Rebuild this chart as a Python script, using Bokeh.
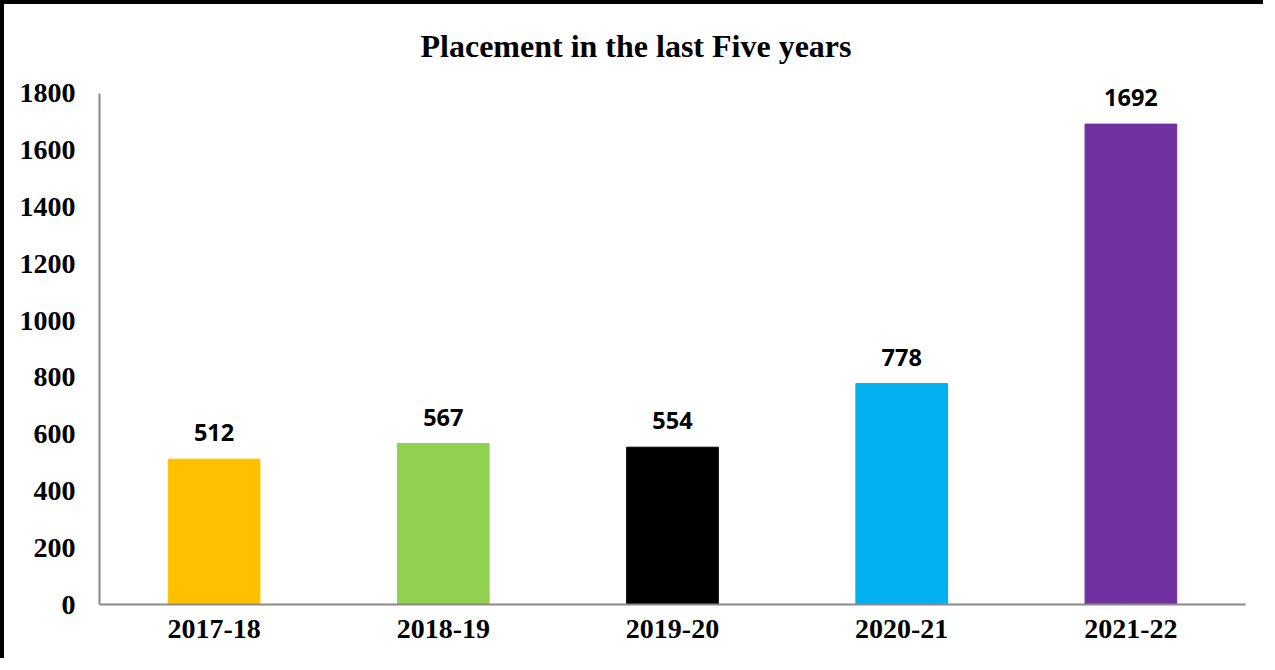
from bokeh.plotting import figure
from bokeh.models import Range1d, FixedTicker, ColumnDataSource, LabelSet
from bokeh.core.properties import value
from bokeh.embed import file_html
from bokeh.resources import INLINE

years = ["2017-18", "2018-19", "2019-20", "2020-21", "2021-22"]
placements = [512, 567, 554, 778, 1692]
bar_colors = ["#FFC000", "#92D050", "#000000", "#00B0F0", "#7030A0"]
y_ticks = [0, 200, 400, 600, 800, 1000, 1200, 1400, 1600, 1800]
y_axis_max = 1800

src = ColumnDataSource(dict(x=years, top=placements, color=bar_colors,
                            label=[str(v) for v in placements]))

# a little head-room above 1800 so the top data label is not clipped
p = figure(x_range=years, y_range=Range1d(0, 1835), width=1263, height=658,
           output_backend="svg", toolbar_location=None,
           min_border_left=95, min_border_right=22, min_border_top=79, min_border_bottom=58)
p.styles = {"border-top": "4px solid black", "border-left": "4px solid black"}

p.title.text = "Placement in the last Five  years"
p.title.text_font = "Liberation Serif"
p.title.text_font_size = "32px"
p.title.text_font_style = "bold"
p.title.text_color = "#000000"
p.title.align = "left"
p.title.offset = 321
p.title.standoff = 40

p.vbar(x="x", top="top", width=0.4, color="color", source=src)
labels = LabelSet(x="x", y="top", text="label", source=src, text_align="center",
                  text_baseline="bottom", y_offset=18, text_font=value("Open Sans"),
                  text_font_size="23.5px", text_font_style="bold", text_color="#000000")
p.add_layout(labels)

p.xgrid.visible = False
p.ygrid.visible = False
p.outline_line_color = None

for ax in (p.xaxis[0], p.yaxis[0]):
    ax.axis_line_color = "#898989"
    ax.axis_line_width = 2
    ax.major_tick_line_color = None
    ax.minor_tick_line_color = None
    ax.major_tick_in = 0
    ax.major_tick_out = 0
    ax.major_label_text_font = "Liberation Serif"
    ax.major_label_text_font_style = "bold"
    ax.major_label_text_font_size = "28px"
    ax.major_label_text_color = "#000000"

p.yaxis[0].bounds = (0, y_axis_max)
p.yaxis[0].ticker = FixedTicker(ticks=y_ticks)
p.yaxis[0].major_label_standoff = 24
p.xaxis[0].major_label_standoff = 15

open("out.html", "w").write(file_html(p, INLINE))
